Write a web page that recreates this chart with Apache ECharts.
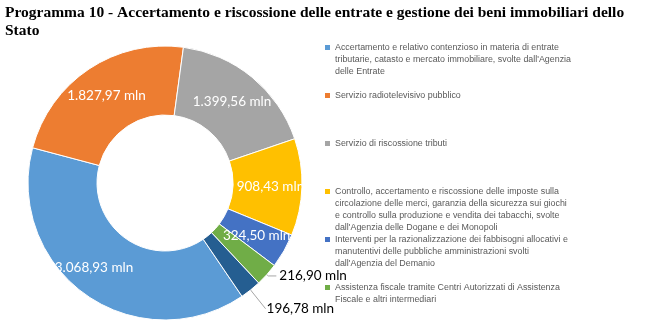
<!DOCTYPE html>
<html><head><meta charset="utf-8">
<script src="https://cdn.jsdelivr.net/npm/echarts@6/dist/echarts.min.js"></script>
<style>html,body{margin:0;padding:0;background:#fff}#c{width:665px;height:336px}</style>
</head><body><div id="c"></div>
<script>
const titleText = 'Programma 10 - Accertamento e riscossione delle entrate e gestione dei beni immobiliari dello\nStato';
const categories = [
  "Accertamento e relativo contenzioso in materia di entrate\ntributarie, catasto e mercato immobiliare, svolte dall'Agenzia\ndelle Entrate",
  "Servizio radiotelevisivo pubblico",
  "Servizio di riscossione tributi",
  "Controllo, accertamento e riscossione delle imposte sulla\ncircolazione delle merci, garanzia della sicurezza sui giochi\ne controllo sulla produzione e vendita dei tabacchi, svolte\ndall'Agenzia delle Dogane e dei Monopoli",
  "Interventi per la razionalizzazione dei fabbisogni allocativi e\nmanutentivi delle pubbliche amministrazioni svolti\ndall'Agenzia del Demanio",
  "Assistenza fiscale tramite Centri Autorizzati di Assistenza\nFiscale e altri intermediari",
  "Altro"
];
const values = [3068.93, 1827.97, 1399.56, 908.43, 324.50, 216.90, 196.78];
const legendNames = categories.slice(0, 6);
const colors = ['#5B9BD5', '#ED7D31', '#A5A5A5', '#FFC000', '#4472C4', '#70AD47', '#255E91'];

const CX = 165, CY = 183, R0 = 68, R1 = 137, MID_R = (R0 + R1) / 2;

function fmt(v) {
  const parts = v.toFixed(2).split('.');
  return parts[0].replace(/\B(?=(\d{3})+(?!\d))/g, '.') + ',' + parts[1];
}

// label overrides for the two small slices (styles only)
const outsideCfg = {
  5: { len: 2, len2: 8, dist: 3 },
  6: { len: 24, len2: 0, dist: 1 }
};

const seriesData = values.map((v, i) => {
  const item = { value: v, name: categories[i], itemStyle: { color: colors[i] } };
  if (i === 0) item.label = { offset: [-10, -1] };
  if (outsideCfg[i]) {
    const c = outsideCfg[i];
    item.label = { position: 'outside', color: '#000', distanceToLabelLine: c.dist };
    item.labelLine = { show: true, length: c.len, length2: c.len2, minTurnAngle: 0, maxSurfaceAngle: 180,
      lineStyle: { color: '#A6A6A6', width: 1 } };
  }
  return item;
});

const chart = echarts.init(document.getElementById('c'), null, { renderer: 'canvas' });
chart.setOption({
  animation: false,
  backgroundColor: '#fff',
  title: {
    text: titleText, left: 5, top: 4, padding: 0,
    textStyle: { fontFamily: 'Liberation Serif', fontWeight: 'bold', fontSize: 15.5, lineHeight: 18, color: '#000' }
  },
  legend: {
    orient: 'vertical', left: 325, top: 42, padding: 0,
    itemWidth: 5, itemHeight: 48, itemGap: 0,
    selectedMode: false,
    data: legendNames,
    icon: 'path://M0,3h5v5h-5z M0,0h0.01v0.01h-0.01z M4.99,47.99h0.01v0.01h-0.01z',
    itemStyle: { borderWidth: 0 },
    formatter: name => name + '\n'.repeat(4 - name.split('\n').length),
    textStyle: { fontFamily: 'Liberation Sans', fontSize: 8.9, lineHeight: 12, color: '#595959' }
  },
  series: [{
    type: 'pie',
    center: [CX, CY],
    radius: [R0, R1],
    startAngle: 304.2,
    clockwise: true,
    avoidLabelOverlap: false,
    itemStyle: { borderColor: '#fff', borderWidth: 1 },
    label: {
      show: true, position: 'inside', color: '#fff', fontFamily: 'Lato', fontSize: 13.5,
      formatter: p => fmt(p.value) + ' mln'
    },
    labelLine: { show: false },
    labelLayout: function (params) {
      if (!outsideCfg[params.dataIndex] || !params.labelLinePoints) return {};
      const pts = params.labelLinePoints.map(p => p.slice());
      const dx = pts[0][0] - CX, dy = pts[0][1] - CY;
      const d = Math.hypot(dx, dy) || 1;
      pts[0] = [CX + dx / d * MID_R, CY + dy / d * MID_R];
      return { labelLinePoints: pts };
    },
    data: seriesData
  }]
});
</script>
</body></html>
